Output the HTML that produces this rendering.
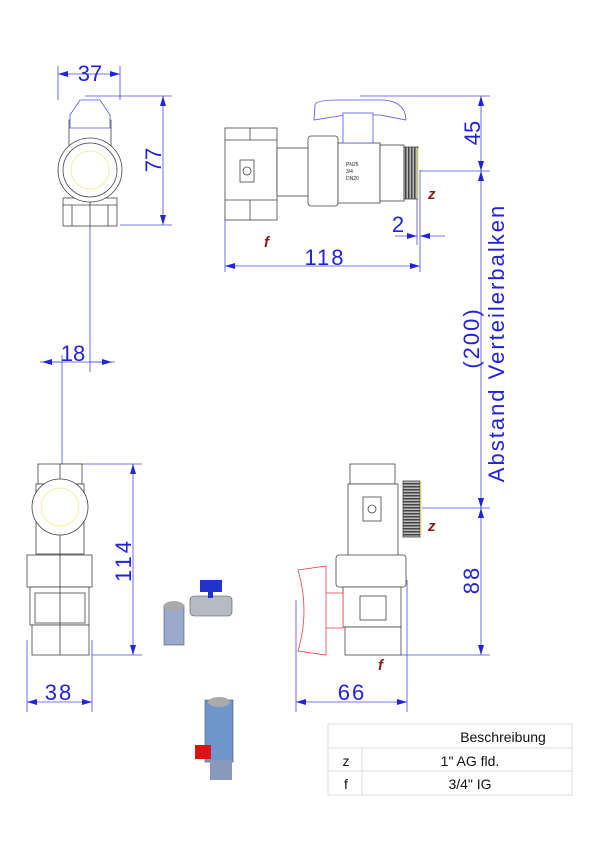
<!DOCTYPE html>
<html><head><meta charset="utf-8"><style>
html,body{margin:0;padding:0;background:#fff}
svg{display:block}
text{font-family:"Liberation Sans",sans-serif}
</style></head><body>
<svg width="600" height="848" viewBox="0 0 600 848" xmlns="http://www.w3.org/2000/svg">
<defs>
<marker id="a" viewBox="0 0 10 6" refX="10" refY="3" markerWidth="10" markerHeight="6" orient="auto-start-reverse" markerUnits="userSpaceOnUse"><path d="M0,0L10,3L0,6z" fill="#2222dd"/></marker>
<pattern id="th" width="3" height="4" patternUnits="userSpaceOnUse"><rect width="3" height="4" fill="#bbb"/><rect width="1.5" height="4" fill="#444"/></pattern>
<pattern id="tv" width="4" height="3" patternUnits="userSpaceOnUse"><rect width="4" height="3" fill="#bbb"/><rect width="4" height="1.5" fill="#444"/></pattern>
</defs>
<g stroke="#4b4bdd" stroke-width="0.8" fill="none">
<line x1="58" y1="66" x2="58" y2="100"/><line x1="120" y1="66" x2="120" y2="100"/>
<line x1="58" y1="74" x2="120" y2="74" marker-start="url(#a)" marker-end="url(#a)"/>
<line x1="85" y1="96" x2="172" y2="96"/><line x1="120" y1="225" x2="172" y2="225"/>
<line x1="163" y1="96" x2="163" y2="225" marker-start="url(#a)" marker-end="url(#a)"/>
<line x1="90" y1="200" x2="90" y2="372"/>
<line x1="40" y1="362" x2="115" y2="362"/>
<line x1="62" y1="355" x2="62" y2="490"/>
<line x1="62" y1="362" x2="42" y2="362" marker-end="url(#a)"/><line x1="90" y1="362" x2="112" y2="362" marker-end="url(#a)"/>
<line x1="225" y1="215" x2="225" y2="272"/><line x1="420" y1="170" x2="420" y2="272"/>
<line x1="225" y1="266" x2="420" y2="266" marker-start="url(#a)" marker-end="url(#a)"/>
<line x1="417" y1="180" x2="417" y2="245"/>
<line x1="395" y1="236" x2="417" y2="236" marker-end="url(#a)"/><line x1="445" y1="236" x2="420" y2="236" marker-end="url(#a)"/>
<line x1="360" y1="96" x2="490" y2="96"/><line x1="420" y1="171" x2="490" y2="171"/>
<line x1="481" y1="96" x2="481" y2="171" marker-start="url(#a)" marker-end="url(#a)"/>
<line x1="481" y1="171" x2="481" y2="508" marker-start="url(#a)" marker-end="url(#a)"/>
<line x1="62" y1="464" x2="142" y2="464"/><line x1="92" y1="655" x2="142" y2="655"/>
<line x1="133" y1="464" x2="133" y2="655" marker-start="url(#a)" marker-end="url(#a)"/>
<line x1="27" y1="640" x2="27" y2="712"/><line x1="92" y1="640" x2="92" y2="712"/>
<line x1="27" y1="702" x2="92" y2="702" marker-start="url(#a)" marker-end="url(#a)"/>
<line x1="422" y1="508" x2="490" y2="508"/><line x1="400" y1="655" x2="490" y2="655"/>
<line x1="481" y1="508" x2="481" y2="655" marker-start="url(#a)" marker-end="url(#a)"/>
<line x1="296" y1="600" x2="296" y2="712"/><line x1="407" y1="580" x2="407" y2="712"/>
<line x1="296" y1="702" x2="407" y2="702" marker-start="url(#a)" marker-end="url(#a)"/>
</g>
<g fill="#2222dd" font-size="22">
<text x="90" y="81" text-anchor="middle">37</text>
<text transform="translate(161,160) rotate(-90)" text-anchor="middle">77</text>
<text x="73" y="361" text-anchor="middle">18</text>
<text x="325" y="265" text-anchor="middle" letter-spacing="2">118</text>
<text x="398" y="232" text-anchor="middle">2</text>
<text transform="translate(480,133) rotate(-90)" text-anchor="middle">45</text>
<text transform="translate(479,338) rotate(-90)" text-anchor="middle" letter-spacing="2">(200)</text>
<text transform="translate(504,343) rotate(-90)" text-anchor="middle" letter-spacing="2">Abstand Verteilerbalken</text>
<text transform="translate(131,560) rotate(-90)" text-anchor="middle" letter-spacing="3">114</text>
<text x="59" y="700" text-anchor="middle" letter-spacing="2">38</text>
<text transform="translate(479,580) rotate(-90)" text-anchor="middle" letter-spacing="2">88</text>
<text x="352" y="700" text-anchor="middle" letter-spacing="2">66</text>
</g>
<g fill="#8b1a1a" font-size="15" font-weight="bold" font-style="italic">
<text x="264" y="247">f</text><text x="428" y="199">z</text>
<text x="428" y="531">z</text><text x="378" y="670">f</text>
</g>
<g stroke="#444" stroke-width="0.8" fill="#fff">
<rect x="69" y="120" width="42" height="40"/>
<path d="M70,115 L80,100 L100,100 L110,115 L110,128 L70,128z" stroke="#5555dd"/>
<rect x="63" y="198" width="54" height="28"/>
<line x1="90" y1="198" x2="90" y2="226"/><line x1="72" y1="205" x2="72" y2="226"/><line x1="108" y1="205" x2="108" y2="226"/><line x1="63" y1="205" x2="117" y2="205"/>
<circle cx="90" cy="170" r="32"/><circle cx="90" cy="170" r="27"/>
<circle cx="90" cy="170" r="19" stroke="#eeee88"/>
</g>
<g stroke="#444" stroke-width="0.8" fill="#fff">
<rect x="225" y="128" width="52" height="92"/>
<line x1="225" y1="140" x2="277" y2="140"/><line x1="225" y1="200" x2="277" y2="200"/>
<line x1="250" y1="128" x2="250" y2="140"/><line x1="250" y1="200" x2="250" y2="220"/>
<rect x="277" y="148" width="32" height="48"/>
<rect x="240" y="160" width="14" height="22"/><circle cx="247" cy="171" r="4"/>
<rect x="308" y="136" width="30" height="70" rx="3"/>
<rect x="338" y="143" width="42" height="60"/>
<rect x="380" y="145" width="24" height="56"/>
<rect x="404" y="147" width="14" height="52" fill="url(#th)"/>
<line x1="418" y1="148" x2="418" y2="199" stroke="#eeee88" stroke-width="1.5"/>
<path d="M315,105 Q315,100 340,100 L380,100 Q405,100 406,120 L380,115 L345,115 L314,120z" stroke="#5555dd"/>
<rect x="343" y="113" width="30" height="30" stroke="#5555dd"/>
</g>
<g font-size="5" fill="#222"><text x="346" y="166">PN25</text><text x="346" y="173">3/4</text><text x="346" y="180">DN20</text></g>
<g stroke="#444" stroke-width="0.8" fill="#fff">
<rect x="38" y="464" width="44" height="20"/>
<rect x="36" y="484" width="48" height="70"/>
<rect x="27" y="555" width="65" height="32"/>
<rect x="30" y="587" width="59" height="38"/>
<rect x="35" y="593" width="50" height="30"/>
<rect x="32" y="625" width="57" height="30"/>
<line x1="60" y1="464" x2="60" y2="655"/>
<circle cx="60" cy="507" r="28"/><circle cx="60" cy="507" r="19" stroke="#eeee88"/>
</g>
<g stroke="#444" stroke-width="0.8" fill="#fff">
<rect x="350" y="464" width="45" height="20"/>
<rect x="348" y="484" width="50" height="72"/>
<rect x="363" y="497" width="18" height="24"/><circle cx="372" cy="509" r="4"/>
<rect x="403" y="481" width="17" height="56" fill="url(#tv)"/>
<line x1="421" y1="482" x2="421" y2="535" stroke="#eeee88" stroke-width="1.5"/>
<rect x="336" y="555" width="70" height="32" rx="3"/>
<rect x="343" y="587" width="58" height="40"/>
<rect x="360" y="596" width="26" height="24"/>
<rect x="345" y="627" width="56" height="28"/>
<rect x="313" y="593" width="30" height="35" stroke="#e04444"/>
<path d="M298,570 L326,566 L326,655 L298,651 Q310,610 298,570z" stroke="#e04444"/>
</g>
<g>
<rect x="190" y="596" width="42" height="20" rx="4" fill="#b5bac4" stroke="#555" stroke-width="0.6"/>
<rect x="200" y="580" width="22" height="12" fill="#2233cc"/>
<rect x="208" y="590" width="5" height="8" fill="#2233cc"/>
<rect x="164" y="605" width="20" height="40" fill="#99aacc" stroke="#555" stroke-width="0.6"/>
<ellipse cx="174" cy="606" rx="10" ry="5" fill="#aaa"/>
<rect x="205" y="700" width="28" height="62" fill="#6f96cc" stroke="#555" stroke-width="0.6"/>
<ellipse cx="219" cy="702" rx="11" ry="5" fill="#aaa"/>
<rect x="195" y="745" width="16" height="14" fill="#dd1111"/>
<rect x="210" y="760" width="22" height="20" fill="#8899bb"/>
</g>
<g stroke="#ddd" stroke-width="1" fill="none">
<rect x="328" y="724" width="244" height="71"/>
<line x1="328" y1="748" x2="572" y2="748"/><line x1="328" y1="771" x2="572" y2="771"/>
<line x1="362" y1="748" x2="362" y2="795"/>
</g>
<g font-size="14" fill="#111" font-family="Liberation Sans Narrow, Liberation Sans, sans-serif">
<text x="503" y="742" text-anchor="middle">Beschreibung</text>
<text x="346" y="766" text-anchor="middle">z</text><text x="470" y="766" text-anchor="middle">1" AG fld.</text>
<text x="346" y="789" text-anchor="middle">f</text><text x="470" y="789" text-anchor="middle">3/4" IG</text>
</g>
</svg>
</body></html>
